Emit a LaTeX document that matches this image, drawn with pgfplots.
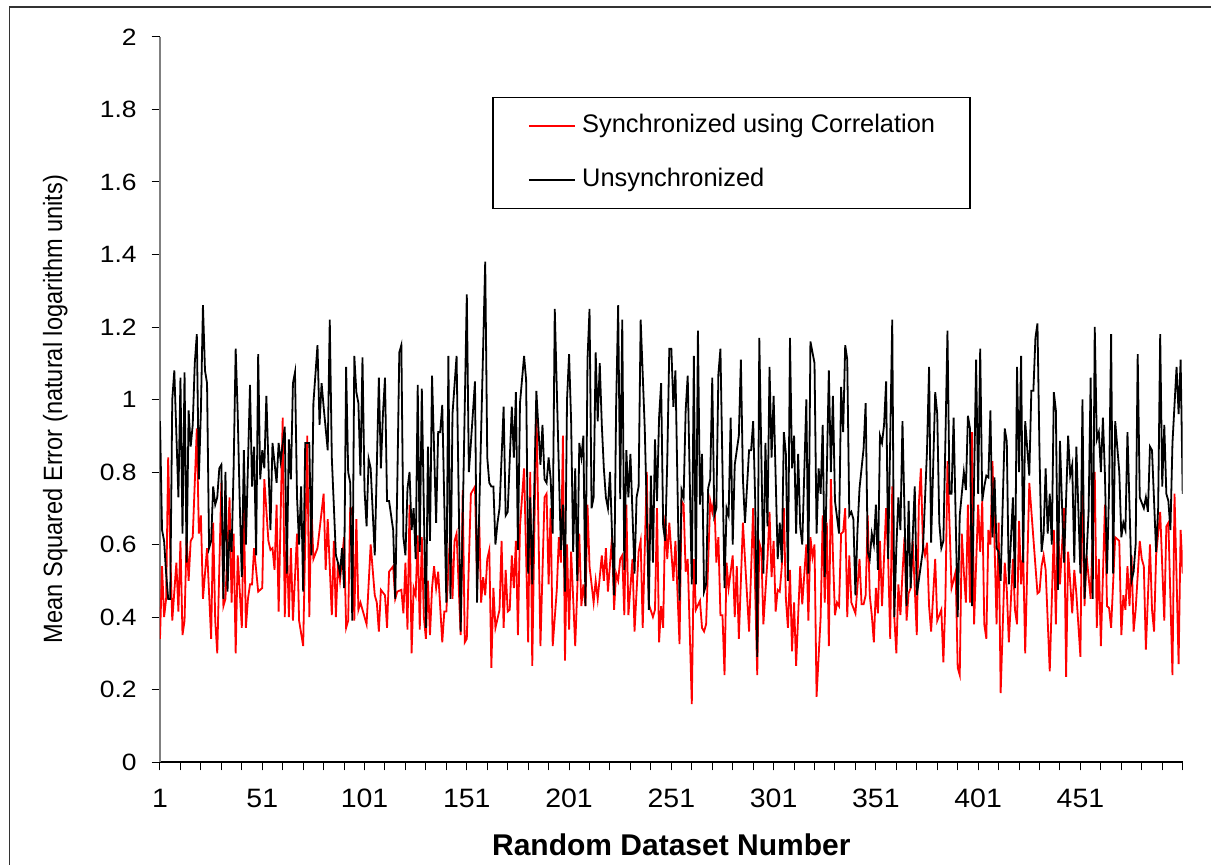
\documentclass[border=0pt]{standalone}
\usepackage{fontspec}
\setmainfont{Liberation Sans}
\newfontfamily\ytickfont[FakeStretch=1.12]{Liberation Sans}
\newfontfamily\xtickfont[FakeStretch=1.07]{Liberation Sans}
\usepackage{graphicx}
\usepackage{pgfplots}
\pgfplotsset{compat=1.18}
\begin{document}
\begin{tikzpicture}[x=1pt,y=1pt]
\useasboundingbox (0,0) rectangle (605.5,432);
\draw[line width=0.9pt, black!80] (4.7,428.6) rectangle (640,-20);
\begin{axis}[
  at={(80pt,51pt)}, anchor=south west,
  scale only axis, width=511.35pt, height=362.5pt,
  xmin=1, xmax=501, ymin=0, ymax=2,
  axis x line*=bottom, axis y line*=left,
  every outer x axis line/.append style={-},
  every outer y axis line/.append style={-},
  x axis line style={-, black, line width=0.8pt},
  y axis line style={-, black!50, line width=0.8pt},
  tick align=outside,
  major tick length=4.2pt, minor tick length=4.2pt,
  tick style={black, line width=0.5pt},
  xtick={1,51,...,451},
  xticklabels={1,51,101,151,201,251,301,351,401,451},
  minor xtick={11,21,...,501},
  ytick={0,0.2,0.4,0.6,0.8,1,1.2,1.4,1.6,1.8,2},
  yticklabels={0,0.2,0.4,0.6,0.8,1,1.2,1.4,1.6,1.8,2},
  yticklabel style={font=\ytickfont\fontsize{11.8}{14}\selectfont, anchor=east, inner sep=0pt, xshift=-7.3pt},
  xticklabel style={font=\xtickfont\fontsize{13.3}{16}\selectfont, anchor=north, inner sep=0pt, yshift=-9.3pt},
  xlabel={Random Dataset Number},
  xlabel style={font=\fontsize{15}{18}\selectfont\bfseries, at={(axis description cs:0.5,0)}, anchor=base, yshift=-46.5pt},
  ylabel={\scalebox{1}[1.12]{Mean Squared Error (natural logarithm units)}},
  ylabel style={font=\fontsize{11.8}{14}\selectfont, at={(axis description cs:-0.0958,0.487)}, anchor=base},
  legend style={at={(axis description cs:0.325,0.9177)}, anchor=north west, draw=black, line width=0.7pt, fill=white,
    font=\fontsize{12.7}{15}\selectfont, inner xsep=17.5pt, inner ysep=8pt, row sep=14.5pt, column sep=3.3pt,
    nodes={inner sep=0pt, text height=9.5pt, text depth=3pt}},
  legend cell align=left,
  legend image code/.code={\path (0pt,4.5pt); \draw[#1] (0pt,0pt) -- (22.85pt,0pt);},
]
\addplot[red, line width=0.9pt] coordinates {
(1,0.34)(2,0.54)(3,0.40)(4,0.45)(5,0.84)(6,0.58)(7,0.39)(9,0.55)(10,0.415)(11,0.61)
(12,0.35)(13,0.39)(14,0.62)(15,0.50)(16,0.61)(17,0.62)(19,0.92)(20,0.63)(21,0.68)(22,0.45)
(24,0.59)(26,0.34)(27,0.66)(28,0.39)(29,0.30)(31,0.77)(32,0.43)(33,0.45)(35,0.73)(36,0.44)
(37,0.63)(38,0.30)(39,0.57)(41,0.37)(42,0.70)(43,0.37)(44,0.45)(45,0.49)(46,0.49)(47,0.59)
(49,0.47)(51,0.48)(52,0.78)(54,0.61)(55,0.585)(56,0.59)(57,0.53)(58,0.71)(59,0.415)(61,0.95)
(62,0.40)(63,0.63)(64,0.40)(65,0.59)(66,0.39)(68,0.63)(69,0.39)(71,0.32)(73,0.90)(74,0.40)
(75,0.71)(76,0.56)(78,0.59)(81,0.74)(82,0.53)(83,0.67)(85,0.405)(86,0.61)(87,0.40)(88,0.55)
(89,0.50)(91,0.62)(92,0.37)(93,0.39)(94,0.70)(95,0.70)(96,0.39)(97,0.67)(98,0.42)(99,0.44)
(102,0.38)(104,0.60)(106,0.46)(107,0.44)(108,0.36)(109,0.475)(111,0.46)(112,0.37)(113,0.525)(115,0.54)
(116,0.45)(117,0.47)(119,0.475)(120,0.41)(121,0.55)(122,0.365)(123,0.71)(124,0.30)(125,0.48)(126,0.46)
(127,0.625)(128,0.365)(129,0.62)(130,0.40)(131,0.34)(132,0.50)(133,0.35)(134,0.48)(135,0.54)(136,0.48)
(137,0.525)(139,0.33)(140,0.415)(141,0.415)(143,0.65)(144,0.45)(145,0.61)(146,0.63)(148,0.35)(149,0.75)
(150,0.33)(151,0.34)(152,0.55)(153,0.74)(155,0.76)(156,0.50)(157,0.68)(158,0.44)(159,0.51)(160,0.46)
(161,0.56)(162,0.585)(163,0.26)(164,0.48)(165,0.37)(167,0.42)(168,0.61)(169,0.37)(170,0.53)(171,0.415)
(172,0.42)(173,0.57)(174,0.48)(175,0.61)(176,0.35)(177,0.65)(179,0.81)(181,0.33)(182,0.80)(183,0.265)
(185,0.99)(187,0.32)(189,0.73)(190,0.74)(191,0.49)(192,0.70)(193,0.32)(195,0.475)(196,0.62)(197,0.55)
(198,0.90)(199,0.28)(200,0.60)(201,0.365)(202,0.58)(204,0.32)(206,0.63)(207,0.43)(208,0.49)(209,0.43)
(210,0.71)(211,0.54)(213,0.44)(214,0.50)(215,0.45)(217,0.57)(218,0.50)(219,0.59)(220,0.47)(222,0.62)
(223,0.42)(224,0.52)(225,0.50)(226,0.56)(227,0.57)(228,0.405)(229,0.71)(230,0.405)(232,0.56)(233,0.36)
(235,0.58)(236,0.61)(237,0.37)(239,0.80)(240,0.435)(242,0.40)(243,0.42)(244,0.70)(245,0.33)(246,0.43)
(247,0.37)(248,0.68)(249,0.56)(250,0.66)(252,0.50)(253,0.61)(255,0.325)(256,0.72)(257,0.71)(258,0.525)
(259,0.56)(261,0.16)(262,0.56)(263,0.42)(265,0.445)(266,0.37)(267,0.36)(268,0.38)(270,0.72)(271,0.69)
(272,0.73)(273,0.55)(274,0.62)(275,0.405)(276,0.405)(277,0.24)(278,0.55)(279,0.48)(281,0.57)(282,0.40)
(283,0.54)(284,0.34)(286,0.66)(289,0.36)(291,0.70)(293,0.24)(294,0.605)(295,0.585)(296,0.38)(298,0.56)
(299,0.69)(300,0.51)(301,0.61)(302,0.415)(303,0.475)(304,0.47)(305,0.54)(306,0.70)(307,0.45)(308,0.37)
(309,0.53)(310,0.305)(311,0.44)(312,0.265)(314,0.54)(315,0.435)(317,0.60)(318,0.39)(319,0.62)(320,0.565)
(321,0.60)(322,0.18)(324,0.40)(325,0.68)(326,0.44)(327,0.66)(328,0.32)(329,0.78)(330,0.57)(331,0.405)
(332,0.44)(333,0.43)(334,0.63)(335,0.635)(336,0.70)(337,0.40)(338,0.57)(339,0.44)(341,0.41)(343,0.56)
(344,0.435)(345,0.435)(346,0.46)(347,0.68)(348,0.46)(349,0.405)(350,0.33)(351,0.48)(352,0.41)(353,0.61)
(354,0.43)(356,0.70)(357,0.56)(358,0.34)(359,0.76)(360,0.40)(361,0.30)(362,0.49)(363,0.405)(364,0.52)
(365,0.62)(366,0.39)(367,0.465)(368,0.48)(369,0.61)(371,0.35)(372,0.71)(373,0.81)(374,0.60)(375,0.57)
(376,0.605)(377,0.43)(378,0.36)(380,0.56)(381,0.39)(383,0.42)(384,0.275)(385,0.45)(386,0.83)(388,0.48)
(390,0.525)(391,0.26)(392,0.24)(393,0.63)(394,0.525)(395,0.44)(396,0.71)(397,0.44)(398,0.91)(399,0.38)
(401,0.71)(402,0.58)(403,0.72)(404,0.38)(405,0.34)(406,0.64)(407,0.60)(408,0.83)(410,0.38)(411,0.66)
(412,0.19)(414,0.55)(415,0.475)(416,0.33)(418,0.56)(419,0.42)(420,0.38)(421,0.665)(422,0.49)(423,0.58)
(424,0.30)(426,0.77)(430,0.465)(431,0.47)(432,0.54)(433,0.57)(434,0.53)(436,0.25)(438,0.64)(439,0.38)
(440,0.68)(441,0.49)(443,0.70)(444,0.235)(445,0.58)(447,0.41)(448,0.53)(449,0.465)(451,0.29)(452,0.84)
(453,0.43)(454,0.57)(456,0.45)(458,0.80)(459,0.37)(460,0.56)(461,0.32)(463,0.71)(464,0.43)(465,0.425)
(466,0.37)(468,0.62)(470,0.61)(471,0.35)(472,0.46)(473,0.42)(474,0.54)(475,0.43)(476,0.57)(477,0.36)
(478,0.42)(480,0.61)(481,0.56)(482,0.54)(483,0.31)(485,0.60)(486,0.42)(487,0.36)(488,0.57)(490,0.69)
(492,0.39)(493,0.65)(494,0.66)(496,0.24)(497,0.74)(498,0.51)(499,0.27)(500,0.64)(501,0.52)
};
\addlegendentry{Synchronized using Correlation}
\addplot[black, line width=0.9pt] coordinates {
(1,0.94)(2,0.64)(3,0.61)(4,0.52)(5,0.45)(6,0.45)(7,1.00)(8,1.08)(10,0.73)(11,1.06)
(12,0.63)(13,1.075)(14,0.55)(15,0.97)(16,0.87)(17,0.93)(18,1.10)(19,1.18)(20,0.78)(21,0.97)
(22,1.26)(23,1.08)(24,1.045)(25,0.59)(26,0.61)(27,0.76)(28,0.71)(29,0.73)(30,0.81)(31,0.82)
(32,0.45)(33,0.80)(34,0.47)(35,0.64)(36,0.58)(37,0.81)(38,1.14)(39,0.96)(40,0.71)(41,0.51)
(42,0.86)(43,0.60)(45,1.04)(46,0.76)(47,0.87)(48,0.57)(49,1.125)(50,0.78)(51,0.86)(52,0.81)
(53,1.01)(55,0.64)(56,0.88)(58,0.77)(59,0.88)(60,0.83)(62,0.925)(63,0.52)(64,0.89)(65,0.78)
(66,1.045)(67,1.075)(68,0.73)(69,0.60)(70,0.76)(71,0.47)(72,0.88)(74,0.88)(75,0.57)(76,0.99)
(78,1.15)(79,0.93)(80,1.045)(81,0.98)(83,0.86)(84,1.22)(85,0.84)(87,0.57)(88,0.55)(89,0.52)
(90,0.59)(91,0.48)(92,1.09)(93,0.80)(94,0.77)(95,0.39)(96,1.12)(97,1.02)(98,0.99)(99,0.79)
(100,1.116)(101,0.75)(102,0.65)(103,0.836)(104,0.81)(106,0.57)(108,1.06)(109,0.81)(110,0.96)(111,1.06)
(112,0.72)(113,0.72)(115,0.64)(116,0.45)(117,0.76)(118,1.13)(119,1.15)(120,0.62)(121,0.57)(122,0.755)
(123,0.80)(124,0.64)(125,0.70)(126,0.56)(127,1.04)(128,0.58)(129,1.03)(131,0.37)(132,0.87)(133,0.61)
(134,1.066)(136,0.66)(137,0.91)(138,0.91)(139,0.985)(141,0.44)(142,1.12)(143,0.45)(144,0.96)(146,1.12)
(148,0.36)(151,1.29)(152,0.80)(153,0.88)(155,1.05)(156,0.44)(160,1.38)(161,0.84)(162,0.77)(163,0.76)
(164,0.76)(165,0.60)(166,0.66)(167,0.70)(169,0.98)(170,0.68)(171,0.69)(173,0.98)(174,0.84)(175,1.02)
(176,0.585)(177,0.99)(179,1.12)(180,1.054)(181,0.52)(182,0.73)(183,0.49)(185,1.024)(187,0.82)(188,0.93)
(189,0.78)(190,0.77)(191,0.84)(192,0.78)(193,0.63)(194,1.25)(197,0.585)(198,0.71)(199,0.47)(200,1.00)
(201,1.125)(202,0.94)(203,0.58)(204,0.81)(205,0.50)(206,0.88)(207,0.84)(208,0.90)(209,0.43)(210,1.11)
(211,1.25)(212,0.70)(213,0.73)(214,1.13)(215,0.94)(216,1.10)(217,0.93)(218,0.81)(219,0.73)(220,0.70)
(221,0.80)(223,0.46)(224,0.98)(225,1.26)(226,0.725)(227,1.22)(228,0.53)(229,0.86)(230,0.73)(231,0.85)
(233,0.52)(234,0.73)(235,0.76)(236,1.22)(238,0.92)(239,0.69)(240,0.42)(241,0.79)(242,0.55)(243,0.89)
(244,0.72)(245,0.95)(246,1.045)(247,0.65)(248,0.61)(249,0.83)(250,1.14)(251,1.14)(252,0.98)(253,1.08)
(255,0.445)(256,0.75)(257,0.73)(258,0.97)(259,1.066)(261,0.49)(262,1.12)(263,0.49)(264,1.19)(265,0.71)
(266,0.85)(267,0.47)(268,0.49)(269,0.755)(270,0.78)(271,1.06)(272,0.68)(273,0.70)(274,1.07)(275,1.14)
(276,0.81)(277,0.48)(278,0.70)(279,0.68)(280,0.95)(281,0.60)(282,0.82)(284,0.90)(285,1.11)(286,0.78)
(287,0.66)(289,0.86)(290,0.86)(291,0.94)(292,0.72)(293,0.29)(294,1.17)(296,0.52)(297,0.88)(298,0.65)
(299,1.09)(300,0.84)(301,1.01)(303,0.56)(304,0.66)(305,0.55)(306,0.91)(307,0.85)(308,0.50)(309,1.17)
(310,0.81)(311,0.90)(312,0.63)(313,0.85)(314,0.65)(315,0.60)(317,1.00)(318,0.52)(319,1.16)(321,1.10)
(322,0.63)(323,0.81)(324,0.74)(325,0.93)(326,0.51)(328,1.08)(329,0.80)(330,1.01)(331,0.72)(333,0.63)
(334,1.035)(335,0.91)(336,1.15)(337,1.11)(338,0.68)(339,0.69)(340,0.67)(341,0.46)(342,0.64)(343,0.755)
(345,0.865)(346,0.99)(347,0.58)(348,0.56)(349,0.63)(350,0.60)(351,0.71)(352,0.53)(353,0.90)(354,0.88)
(355,0.93)(356,1.05)(357,0.56)(359,1.22)(360,0.40)(361,0.59)(362,0.73)(363,0.64)(364,0.94)(366,0.43)
(367,0.72)(368,0.48)(370,0.76)(371,0.46)(374,0.585)(376,0.86)(377,1.09)(378,0.605)(380,1.02)(381,0.96)
(382,0.66)(383,0.59)(384,0.61)(385,0.89)(386,1.19)(387,0.74)(388,0.74)(389,0.95)(391,0.40)(392,0.68)
(394,0.80)(395,0.75)(396,0.955)(397,0.92)(398,0.43)(400,1.11)(401,0.74)(402,1.14)(403,0.72)(404,0.76)
(405,0.79)(406,0.785)(407,0.97)(408,0.62)(409,0.785)(410,0.59)(411,0.58)(412,0.50)(414,0.92)(415,0.884)
(416,0.49)(418,0.73)(419,0.48)(420,1.09)(421,0.80)(422,1.12)(423,0.55)(424,0.94)(426,0.79)(427,1.024)
(428,1.024)(429,1.17)(430,1.21)(431,0.85)(432,0.58)(433,0.63)(434,0.81)(435,0.63)(436,0.74)(437,0.60)
(438,1.02)(439,0.97)(440,0.475)(441,0.886)(442,0.71)(443,0.55)(445,0.90)(446,0.79)(447,0.82)(448,0.55)
(449,0.87)(451,0.52)(452,1.00)(453,0.45)(455,0.69)(456,1.06)(457,0.45)(458,1.20)(459,0.89)(460,0.91)
(461,0.80)(462,0.95)(463,0.79)(464,0.52)(465,0.75)(466,1.18)(467,0.52)(468,0.94)(470,0.80)(471,0.62)
(472,0.66)(473,0.64)(474,0.91)(476,0.50)(477,0.525)(478,0.60)(479,1.125)(480,0.73)(482,0.70)(483,0.73)
(484,0.69)(485,0.87)(486,0.86)(488,0.58)(489,0.70)(490,1.18)(491,0.76)(492,0.93)(493,0.74)(494,0.72)
(495,0.64)(496,0.88)(498,1.09)(499,0.96)(500,1.11)(501,0.74)
};
\addlegendentry{Unsynchronized}
\end{axis}
\end{tikzpicture}
\end{document}
